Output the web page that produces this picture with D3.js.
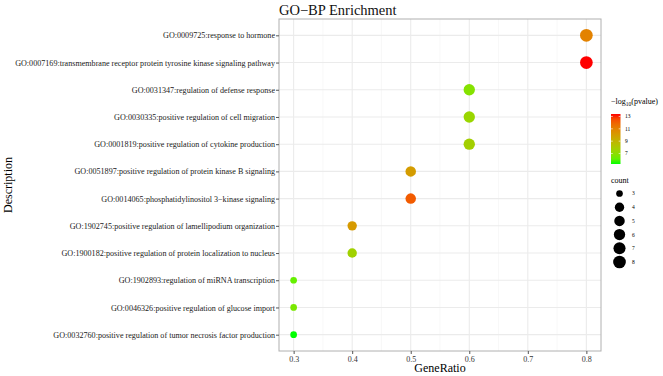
<!DOCTYPE html>
<html>
<head>
<meta charset="utf-8">
<script src="https://cdn.jsdelivr.net/npm/d3@7"></script>
<style>
  body { margin: 0; background: #fff; }
  text { font-family: "Liberation Serif", "Times New Roman", serif; }
</style>
</head>
<body>
<div id="vis"></div>
<script>
// GO terms, top to bottom
var terms = [
  "GO:0009725:response to hormone",
  "GO:0007169:transmembrane receptor protein tyrosine kinase signaling pathway",
  "GO:0031347:regulation of defense response",
  "GO:0030335:positive regulation of cell migration",
  "GO:0001819:positive regulation of cytokine production",
  "GO:0051897:positive regulation of protein kinase B signaling",
  "GO:0014065:phosphatidylinositol 3\u2212kinase signaling",
  "GO:1902745:positive regulation of lamellipodium organization",
  "GO:1900182:positive regulation of protein localization to nucleus",
  "GO:1902893:regulation of miRNA transcription",
  "GO:0046326:positive regulation of glucose import",
  "GO:0032760:positive regulation of tumor necrosis factor production"
];
var geneRatio = [0.8, 0.8, 0.6, 0.6, 0.6, 0.5, 0.5, 0.4, 0.4, 0.3, 0.3, 0.3];
var counts    = [8, 8, 6, 6, 6, 5, 5, 4, 4, 3, 3, 3];
var negLogP   = [11.0, 13.4, 6.8, 7.4, 7.7, 10.0, 12.2, 10.1, 7.6, 6.1, 6.5, 5.3];

var xTicks = [0.3, 0.4, 0.5, 0.6, 0.7, 0.8];
var colorTicks = [7, 9, 11, 13];
var sizeTicks = [3, 4, 5, 6, 7, 8];

var width = 663, height = 376;
var margin = {top: 19, right: 62, bottom: 25, left: 279};
var innerW = width - margin.left - margin.right;
var innerH = height - margin.top - margin.bottom;

var svg = d3.select("#vis").append("svg")
  .attr("width", width)
  .attr("height", height);

var g = svg.append("g")
  .attr("transform", "translate(" + margin.left + "," + margin.top + ")");

var x = d3.scaleLinear().domain([0.275, 0.825]).range([0, innerW]);
var y = d3.scalePoint().domain(terms).range([0, innerH]).padding(0.6);

var pMin = d3.min(negLogP), pMax = d3.max(negLogP);
var color = d3.scaleLinear().domain([pMin, pMax])
  .range(["#00ff00", "#ff0000"]).interpolate(d3.interpolateLab);

// area-style size scale (like ggplot's scale_size)
var sizeScale = d3.scaleSqrt().domain([0, 5]).range([0, 3]);
function radius(c) { return 3.35 + sizeScale(c - 3); }

// grid lines
var minor = [0.35, 0.45, 0.55, 0.65, 0.75];
g.selectAll(".minor").data(minor).enter().append("line")
  .attr("x1", function (d) { return x(d); })
  .attr("x2", function (d) { return x(d); })
  .attr("y1", 0).attr("y2", innerH)
  .attr("stroke", "#f4f4f4").attr("stroke-width", 0.6);
g.selectAll(".vmajor").data(xTicks).enter().append("line")
  .attr("x1", function (d) { return x(d); })
  .attr("x2", function (d) { return x(d); })
  .attr("y1", 0).attr("y2", innerH)
  .attr("stroke", "#ebebeb").attr("stroke-width", 1.1);
g.selectAll(".hmajor").data(terms).enter().append("line")
  .attr("x1", 0).attr("x2", innerW)
  .attr("y1", function (d) { return y(d); })
  .attr("y2", function (d) { return y(d); })
  .attr("stroke", "#ebebeb").attr("stroke-width", 1.1);

// points
var pts = terms.map(function (t, i) {
  return {term: t, ratio: geneRatio[i], count: counts[i], p: negLogP[i]};
});
g.selectAll("circle.pt").data(pts).enter().append("circle")
  .attr("class", "pt")
  .attr("cx", function (d) { return x(d.ratio); })
  .attr("cy", function (d) { return y(d.term); })
  .attr("r", function (d) { return radius(d.count); })
  .attr("fill", function (d) { return color(d.p); });

// panel border
g.append("rect")
  .attr("width", innerW).attr("height", innerH)
  .attr("fill", "none").attr("stroke", "#b0b0b0").attr("stroke-width", 1);

// axes
var xAxis = g.append("g")
  .attr("transform", "translate(0," + innerH + ")")
  .call(d3.axisBottom(x).tickValues(xTicks).tickSize(3).tickPadding(2).tickFormat(d3.format(".1f")));
xAxis.select(".domain").remove();
xAxis.selectAll("line").attr("stroke", "#555");
xAxis.selectAll("text").attr("font-size", "8px").attr("fill", "#333");

var yAxis = g.append("g")
  .call(d3.axisLeft(y).tickSize(3).tickPadding(1));
yAxis.select(".domain").remove();
yAxis.selectAll("line").attr("stroke", "#555");
yAxis.selectAll("text").attr("font-size", "8.1px").attr("fill", "#1a1a1a");

// titles
svg.append("text")
  .attr("x", margin.left).attr("y", 15)
  .attr("font-size", "14.5px").attr("fill", "#111")
  .text("GO\u2212BP Enrichment");
svg.append("text")
  .attr("x", margin.left + innerW / 2).attr("y", 372)
  .attr("text-anchor", "middle").attr("font-size", "12px")
  .text("GeneRatio");
svg.append("text")
  .attr("transform", "translate(12," + (margin.top + innerH / 2) + ") rotate(-90)")
  .attr("text-anchor", "middle").attr("font-size", "12px")
  .text("Description");

// colour legend
var leg = svg.append("g").attr("transform", "translate(611,0)");
var lt = leg.append("text").attr("x", 0).attr("y", 104).attr("font-size", "8px");
lt.append("tspan").text("\u2212log");
lt.append("tspan").attr("font-size", "5.5px").attr("dy", "2").text("10");
lt.append("tspan").attr("dy", "-2").text("(pvalue)");

var barTop = 114, barBot = 164;
var cy = d3.scaleLinear().domain([pMin, pMax]).range([barBot, barTop]);
var defs = svg.append("defs");
var grad = defs.append("linearGradient").attr("id", "cgrad")
  .attr("x1", 0).attr("x2", 0).attr("y1", 1).attr("y2", 0);
d3.range(0, 1.001, 0.1).forEach(function (t) {
  grad.append("stop").attr("offset", t)
    .attr("stop-color", color(pMin + t * (pMax - pMin)));
});
leg.append("rect").attr("x", 0).attr("y", barTop)
  .attr("width", 9.5).attr("height", barBot - barTop)
  .attr("fill", "url(#cgrad)");
colorTicks.forEach(function (v) {
  leg.append("line").attr("x1", 0).attr("x2", 1.8)
    .attr("y1", cy(v)).attr("y2", cy(v)).attr("stroke", "#fff").attr("stroke-width", 0.6);
  leg.append("line").attr("x1", 7.7).attr("x2", 9.5)
    .attr("y1", cy(v)).attr("y2", cy(v)).attr("stroke", "#fff").attr("stroke-width", 0.6);
  leg.append("text").attr("x", 14).attr("y", cy(v)).attr("dy", "0.35em")
    .attr("font-size", "5.5px").text(v);
});

// size legend
leg.append("text").attr("x", 0).attr("y", 183).attr("font-size", "8px").text("count");
var sy = d3.scalePoint().domain(sizeTicks).range([193.5, 262]);
sizeTicks.forEach(function (v) {
  leg.append("circle").attr("cx", 8.5).attr("cy", sy(v))
    .attr("r", radius(v)).attr("fill", "#000");
  leg.append("text").attr("x", 21).attr("y", sy(v)).attr("dy", "0.35em")
    .attr("font-size", "5.5px").text(v);
});
</script>
</body>
</html>
